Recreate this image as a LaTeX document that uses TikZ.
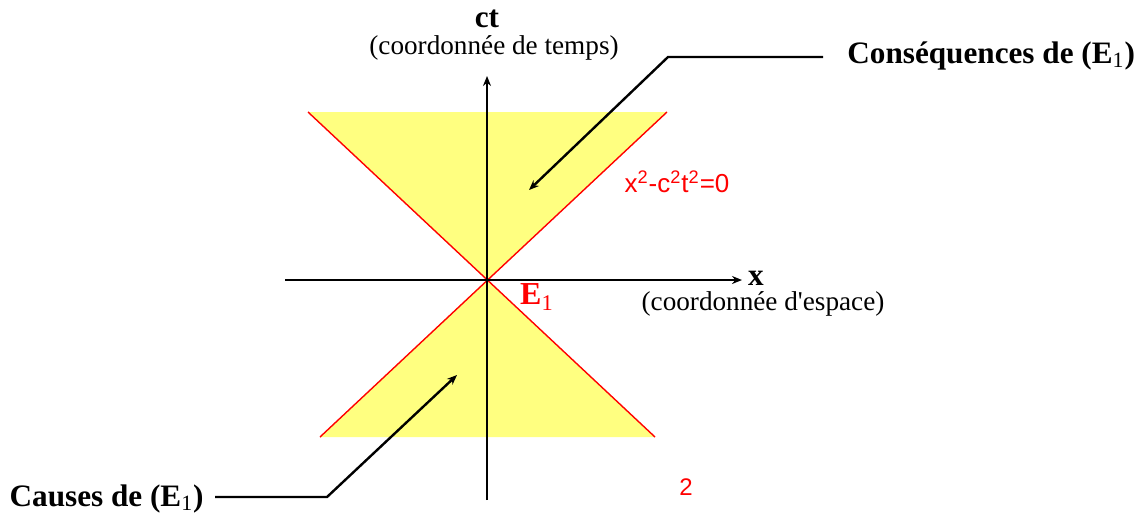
\documentclass[tikz,border=0pt]{standalone}
\usepackage{fontspec}
\setmainfont{Liberation Serif}
\newfontfamily\arialfont{Liberation Sans}
\usetikzlibrary{arrows.meta,positioning}
\definecolor{conefill}{HTML}{FFFF80}
\definecolor{conered}{HTML}{FF0000}

\begin{document}
\begin{tikzpicture}[x=0.5pt,y=-0.5pt,
  axis/.style={black,line width=0.8pt,-{Stealth[length=5pt,width=4pt]}},
  pointer/.style={black,line width=1.2pt,-{Stealth[length=5pt,width=4pt]}},
  lbl/.style={font=\fontsize{15.6}{17}\selectfont\bfseries,inner sep=0pt},
  note/.style={font=\fontsize{13.6}{15}\selectfont,inner sep=0pt},
  redtext/.style={text=conered,inner sep=0pt}]
\useasboundingbox (0,0) rectangle (1144,516);
% light cone
\coordinate (E1) at (487,280);
\coordinate (ul) at (308,112);
\coordinate (ur) at (667,112);
\coordinate (ll) at (320,437);
\coordinate (lr) at (655,437);
\fill[conefill] (E1) -- (ul) -- (ur) -- cycle;
\fill[conefill] (E1) -- (ll) -- (lr) -- cycle;
\draw[conered,line width=0.7pt] (ul) -- (lr);
\draw[conered,line width=0.7pt] (ur) -- (ll);
% axes
\coordinate (xstart) at (285,280);
\coordinate (xend) at (742,280);
\coordinate (tstart) at (487,500);
\coordinate (tend) at (487,76);
\draw[axis] (xstart) -- (xend);
\draw[axis] (tstart) -- (tend);
\node[lbl,anchor=base] (xlab) at (756,285) {x};
\node[note] (xnote) at (763,304) {(coordonnée d\textquotesingle espace)};
\node[lbl] (ctlab) at (487,19) {ct};
\node[note] (ctnote) at (494,48) {(coordonnée de temps)};
\node[redtext,font=\fontsize{16}{18}\selectfont\bfseries] (E1lab) at (537,297) {E\textsubscript{\mdseries 1}};
\node[redtext,font=\arialfont\fontsize{13}{15}\selectfont] (coneeq) at (677,182) {x\textsuperscript{2}-c\textsuperscript{2}t\textsuperscript{2}=0};
\node[redtext,font=\arialfont\fontsize{12}{14}\selectfont] (num) at (686,487) {2};
% pointers
\node[lbl,anchor=base west] (cons) at (847,63) {Conséquences de (E\textsubscript{\mdseries 1})};
\coordinate (consbend) at (668,57);
\coordinate (constip) at (529,190);
\draw[pointer] ([xshift=-12pt,yshift=3pt]cons.base west) -- (consbend) -- (constip);
\node[lbl,anchor=base east] (causes) at (204,506) {Causes de (E\textsubscript{\mdseries 1})};
\coordinate (causesbend) at (327,497);
\coordinate (causestip) at (457,375);
\draw[pointer] ([xshift=5.5pt,yshift=4.5pt]causes.base east) -- (causesbend) -- (causestip);
\end{tikzpicture}
\end{document}
